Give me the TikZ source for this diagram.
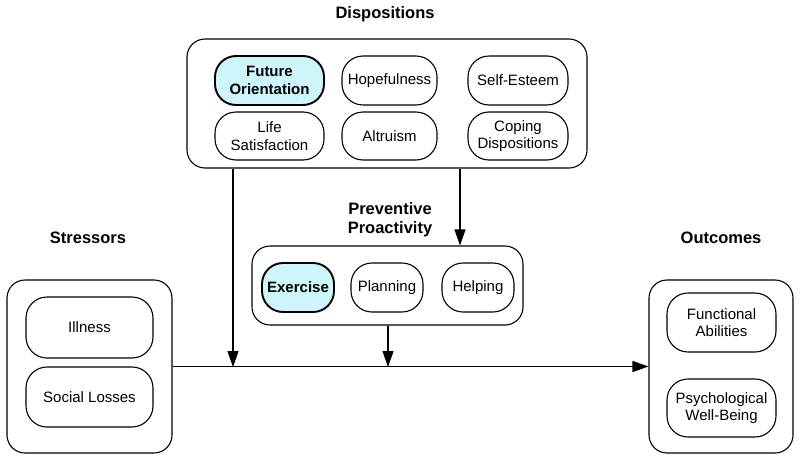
\documentclass[tikz,border=0pt]{standalone}
\usepackage{fontspec}
\setmainfont{Liberation Sans}
\usetikzlibrary{arrows.meta}
\definecolor{hl}{RGB}{206,246,250}
\tikzset{
  outer/.style={draw, line width=1.1pt, rounded corners=18pt, inner sep=0pt},
  item/.style={draw, line width=1.1pt, rounded corners=21pt, align=center, inner sep=0pt,
    font=\fontsize{15}{17.5}\selectfont},
  key/.style={item, fill=hl, line width=1.9pt, font=\fontsize{15}{17.5}\selectfont\bfseries},
  title/.style={align=center, font=\fontsize{16.5}{19}\selectfont\bfseries},
  arr/.style={line width=1.1pt, -{Triangle[length=16pt,width=11pt]}},
}
\begin{document}
\begin{tikzpicture}[x=1pt,y=-1pt]
\useasboundingbox (0,0) rectangle (800,458);
% titles
\node[title] (tdisp) at (385,14) {Dispositions};
\node[title] (tprev) at (390,220) {Preventive\\Proactivity};
\node[title] (tstr) at (88,238) {Stressors};
\node[title] (tout) at (721,238) {Outcomes};
% outer boxes
\node[outer, minimum width=400pt, minimum height=129pt] (disp) at (387,103.5) {};
\node[outer, minimum width=271pt, minimum height=79pt] (prev) at (387.5,285.5) {};
\node[outer, minimum width=165pt, minimum height=173pt] (str) at (89.5,366.5) {};
\node[outer, minimum width=144pt, minimum height=173pt] (out) at (721,366.5) {};
% dispositions items
\node[key, minimum width=109pt, minimum height=49pt] (fo) at (269.5,80.5) {Future\\Orientation};
\node[item, minimum width=95pt, minimum height=49pt] (hope) at (389.5,80.5) {Hopefulness};
\node[item, minimum width=100pt, minimum height=49pt] (se) at (518,80.5) {Self-Esteem};
\node[item, minimum width=109pt, minimum height=48pt] (ls) at (269.5,136) {Life\\Satisfaction};
\node[item, minimum width=95pt, minimum height=48pt] (alt) at (389.5,136) {Altruism};
\node[item, minimum width=100pt, minimum height=48pt] (cope) at (518,136) {Coping\\Dispositions};
% preventive items
\node[key, minimum width=72pt, minimum height=49pt] (ex) at (298,287.5) {Exercise};
\node[item, minimum width=72pt, minimum height=49pt] (plan) at (387,287.5) {Planning};
\node[item, minimum width=72pt, minimum height=49pt] (help) at (478,287.5) {Helping};
% stressors items
\node[item, minimum width=127pt, minimum height=61pt] (ill) at (89.5,327.5) {Illness};
\node[item, minimum width=127pt, minimum height=60pt] (soc) at (89.5,397) {Social Losses};
% outcomes items
\node[item, minimum width=109pt, minimum height=59pt] (func) at (721.5,322.5) {Functional\\Abilities};
\node[item, minimum width=109pt, minimum height=58pt] (psy) at (721.5,408) {Psychological\\Well-Being};
% connectors
\coordinate (j1) at (233,367);
\coordinate (j2) at (388,367);
\coordinate (k) at (460,0);
\draw[arr] (str.east) -- (out.west);
\draw[arr] (disp.south -| j1) -- (j1);
\draw[arr] (disp.south -| k) -- (prev.north -| k);
\draw[arr] (prev.south -| j2) -- (j2);
\end{tikzpicture}
\end{document}
